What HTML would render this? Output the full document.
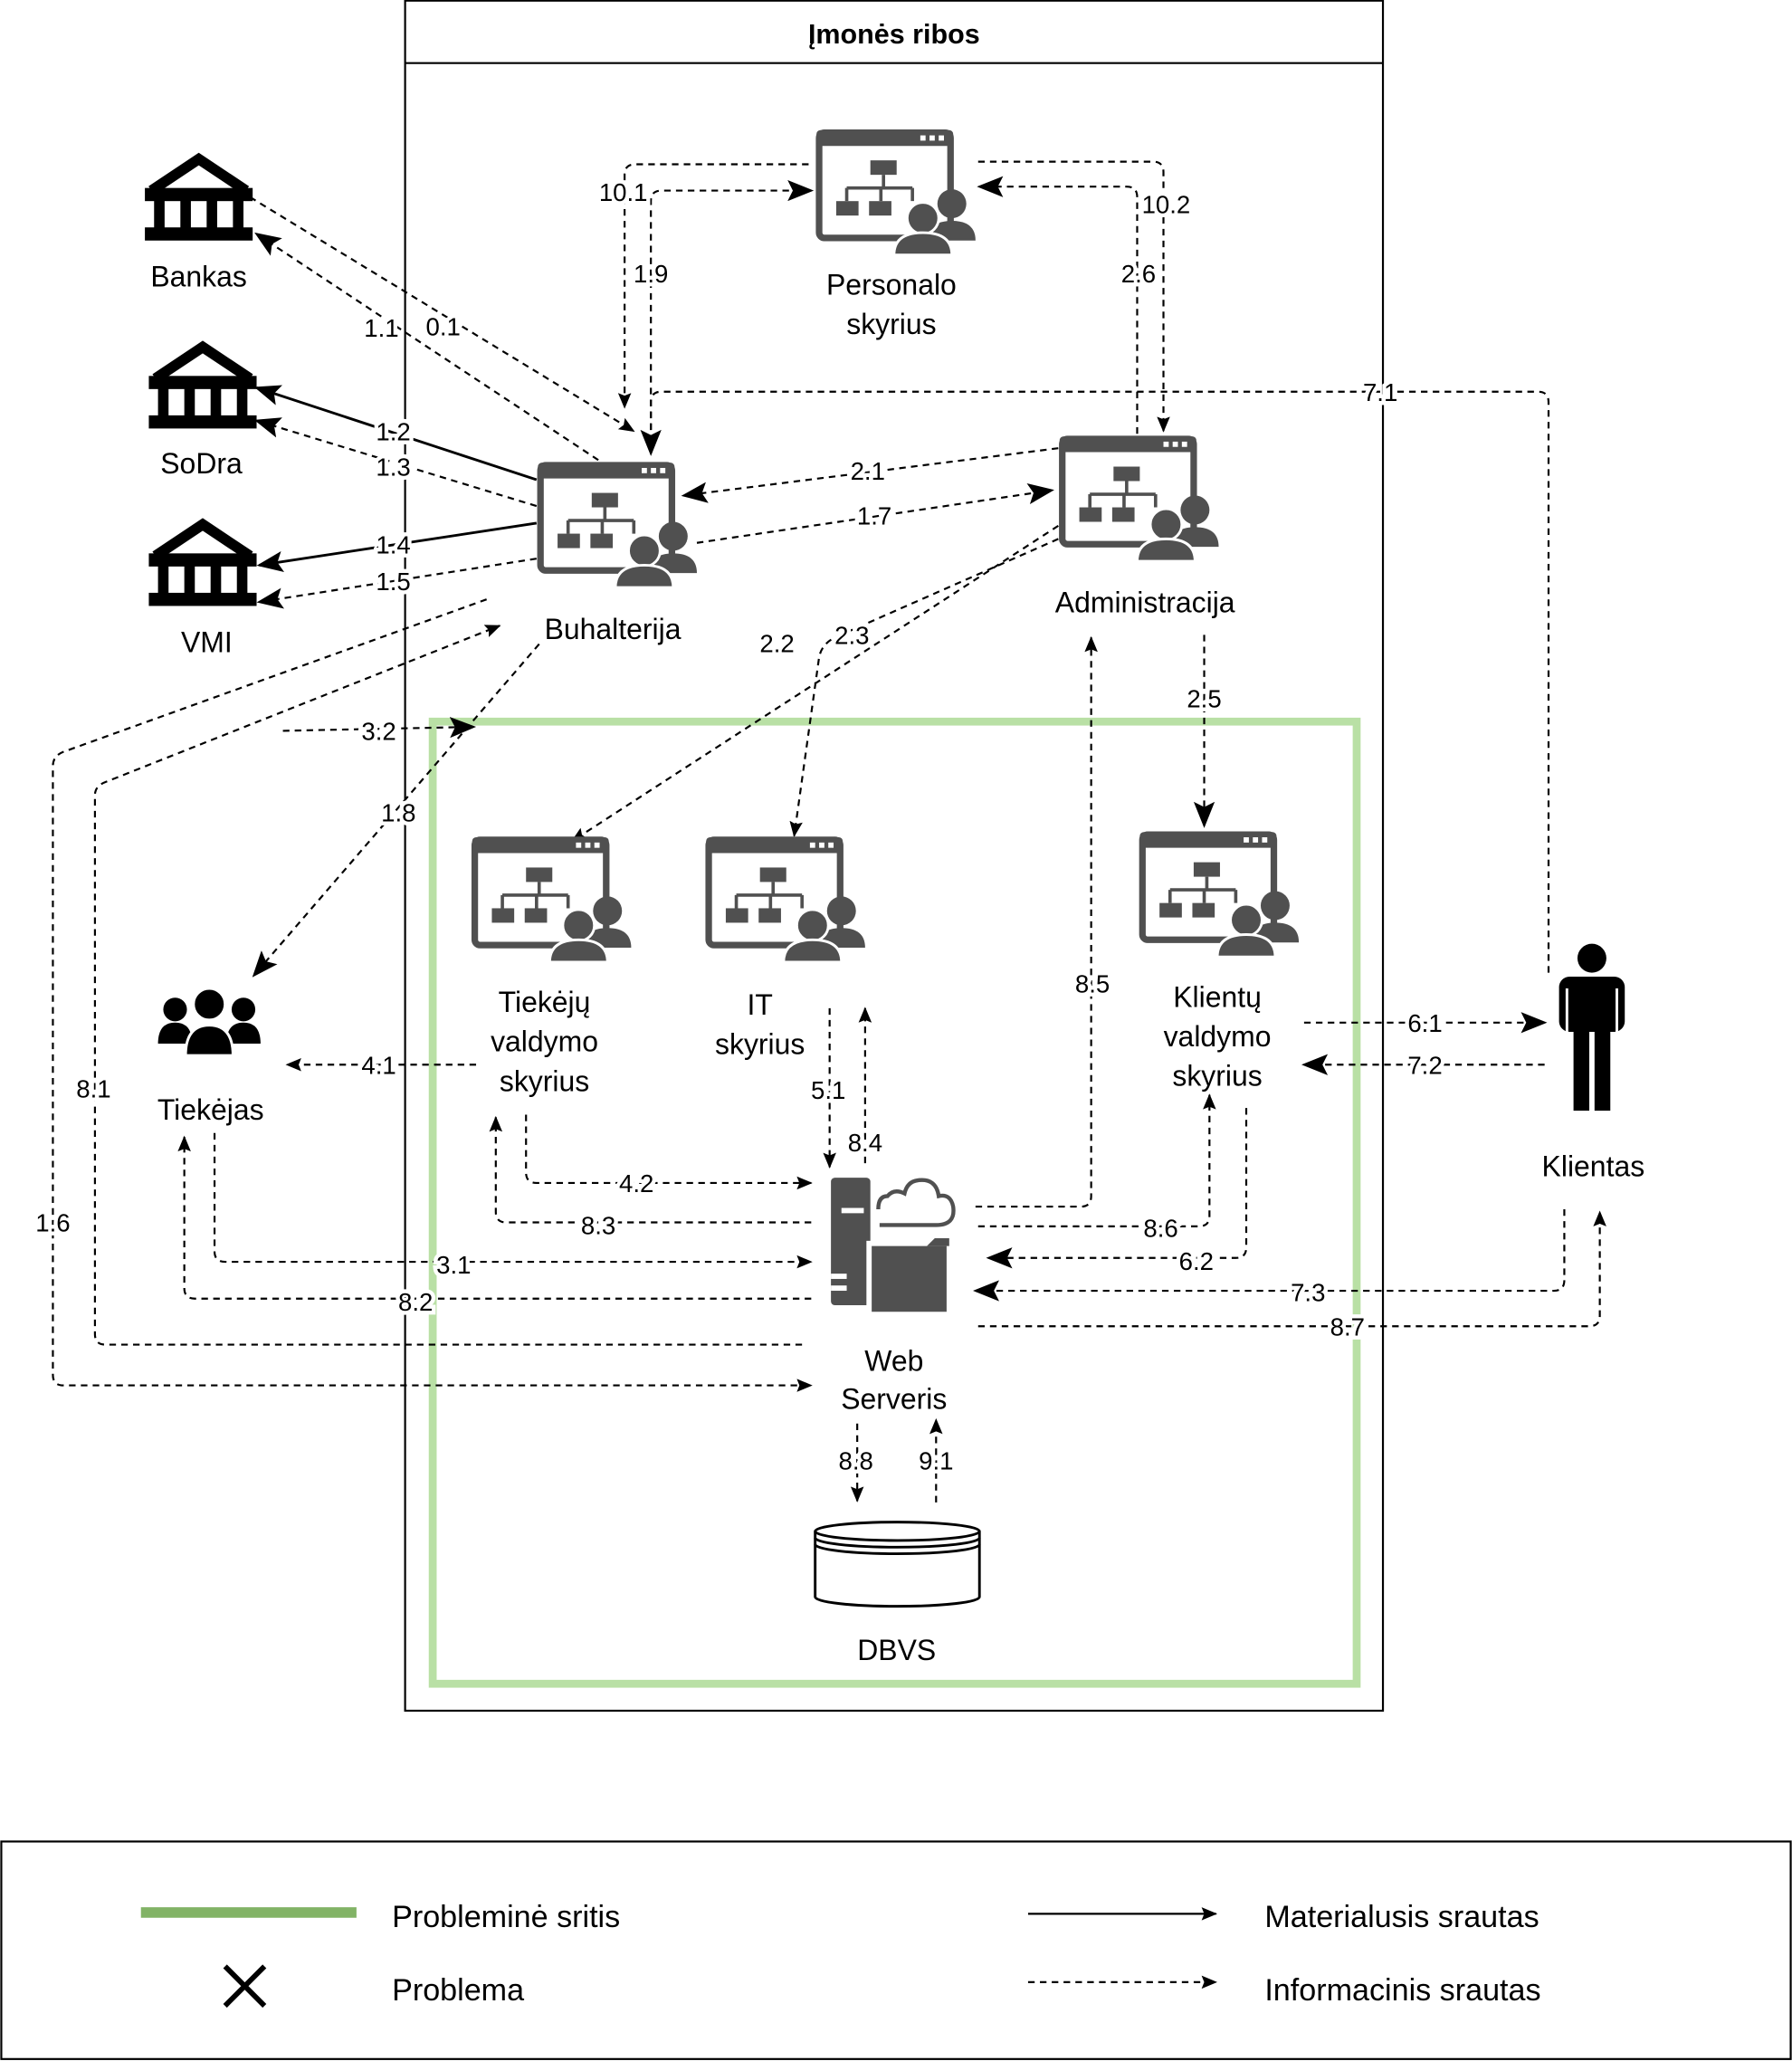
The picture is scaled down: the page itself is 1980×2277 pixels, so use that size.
<!DOCTYPE html>
<html><head><meta charset="utf-8"><style>html,body{margin:0;padding:0;background:#fff}svg{display:block}</style></head><body>
<svg width="1980" height="2277" viewBox="0 0 1363 1568" xmlns="http://www.w3.org/2000/svg" font-family="Liberation Sans, sans-serif">
<defs>
<marker id="b" markerUnits="userSpaceOnUse" markerWidth="20" markerHeight="16" refX="18" refY="8" orient="auto"><path d="M0,0 L20,8 L0,16 L4,8z" fill="#000"/></marker>
<marker id="s" markerUnits="userSpaceOnUse" markerWidth="12" markerHeight="10" refX="11" refY="5" orient="auto"><path d="M0,0 L12,5 L0,10 L2,5z" fill="#000"/></marker>
<g id="win">
<rect x="3" y="3" width="100" height="80" rx="4" fill="#fff" stroke="#505050" stroke-width="5"/>
<rect x="1" y="1" width="104" height="12" rx="3" fill="#505050"/>
<rect x="80" y="5" width="4" height="4" fill="#fff"/><rect x="87" y="5" width="4" height="4" fill="#fff"/><rect x="94" y="5" width="4" height="4" fill="#fff"/>
<rect x="42" y="24" width="20" height="11" fill="#505050"/>
<path d="M52,35 V45 M24,45 H74 M24,45 V55 M50,45 V55 M74,45 V55" stroke="#505050" stroke-width="2.5" fill="none"/>
<rect x="16" y="55" width="17" height="11" fill="#505050"/><rect x="41" y="55" width="17" height="11" fill="#505050"/>
<circle cx="104" cy="57" r="11" fill="#505050"/>
<path d="M86,85 Q86,70 104,70 Q122,70 122,85z" fill="#505050"/>
<circle cx="82" cy="68" r="12" fill="#505050" stroke="#fff" stroke-width="2"/>
<path d="M60,96 Q60,79 82,79 Q104,79 104,96z" fill="#505050" stroke="#fff" stroke-width="2"/>
</g>
<g id="bank">
<path d="M5,30 L41,6 L77,30" fill="none" stroke="#000" stroke-width="8"/>
<rect x="0" y="28" width="82" height="10" fill="#000"/>
<rect x="7" y="36" width="8" height="24" fill="#000"/><rect x="27" y="36" width="8" height="24" fill="#000"/><rect x="47" y="36" width="8" height="24" fill="#000"/><rect x="67" y="36" width="8" height="24" fill="#000"/>
<rect x="0" y="58" width="82" height="10" fill="#000"/>
</g>
</defs>
<rect x="308" y="0.5" width="744" height="1301" fill="none" stroke="#000" stroke-width="1.5"/>
<line x1="308" y1="48" x2="1052" y2="48" stroke="#000" stroke-width="1.5"/>
<text x="680" y="33" font-size="21" font-weight="bold" text-anchor="middle">Įmonės ribos</text>
<rect x="329" y="549" width="703" height="732" fill="none" stroke="#b9e0a5" stroke-width="6"/>

<g fill="none" stroke="#000" stroke-width="1.5" stroke-dasharray="5 4">
<path d="M190,150 L482,328" marker-end="url(#s)"/>
<path d="M455,350 L195,178" marker-end="url(#b)"/>
<path d="M408,385 L195,320" marker-end="url(#b)"/>
<path d="M408,425 L197,458" marker-end="url(#b)"/>
<path d="M615,125 H483 Q475,125 475,133 V310" marker-end="url(#s)"/>
<path d="M495,345 V153 Q495,145 503,145 H617" marker-end="url(#b)"/>
<path d="M744,123 H877 Q885,123 885,131 V328" marker-end="url(#s)"/>
<path d="M865,330 V150 Q865,142 857,142 H745" marker-end="url(#b)"/>
<path d="M1178,740 V306 Q1178,298 1170,298 H503 Q495,298 495,306 V345" marker-end="url(#b)"/>
<path d="M805,341 L520,377" marker-end="url(#b)"/>
<path d="M530,413 L800,373" marker-end="url(#b)"/>
<path d="M805,400 L435,640" marker-end="url(#s)"/>
<path d="M805,410 L635,485 Q625,490 623,500 L604,636" marker-end="url(#s)"/>
<path d="M916,483 V628" marker-end="url(#b)"/>
<path d="M742,918 H822 Q830,918 830,910 V485" marker-end="url(#s)"/>
<path d="M410,490 L193,742" marker-end="url(#b)"/>
<path d="M215,556 L360,553" marker-end="url(#b)"/>
<path d="M610,1023 H80 Q72,1023 72,1015 V605 Q72,598 80,595 L380,476" marker-end="url(#s)"/>
<path d="M370,456 L48,572 Q40,575 40,583 V1046 Q40,1054 48,1054 H617" marker-end="url(#s)"/>
<path d="M362,810 H218" marker-end="url(#s)"/>
<path d="M400,848 V892 Q400,900 408,900 H617" marker-end="url(#s)"/>
<path d="M617,930 H385 Q377,930 377,922 V850" marker-end="url(#s)"/>
<path d="M163,862 V952 Q163,960 171,960 H617" marker-end="url(#s)"/>
<path d="M617,988 H148 Q140,988 140,980 V865" marker-end="url(#s)"/>
<path d="M631,767 V888" marker-end="url(#s)"/>
<path d="M658,885 V767" marker-end="url(#s)"/>
<path d="M992,778 H1175" marker-end="url(#b)"/>
<path d="M1175,810 H992" marker-end="url(#b)"/>
<path d="M744,933 H912 Q920,933 920,925 V833" marker-end="url(#s)"/>
<path d="M948,843 V949 Q948,957 940,957 H752" marker-end="url(#b)"/>
<path d="M1190,920 V974 Q1190,982 1182,982 H742" marker-end="url(#b)"/>
<path d="M744,1009 H1209 Q1217,1009 1217,1001 V922" marker-end="url(#s)"/>
<path d="M652,1083 V1142" marker-end="url(#s)"/>
<path d="M712,1143 V1080" marker-end="url(#s)"/>
</g>
<g fill="none" stroke="#000" stroke-width="2">
<path d="M408,365 L195,295" marker-end="url(#b)"/>
<path d="M408,398 L197,430" marker-end="url(#b)"/>
</g>

<g font-size="19" text-anchor="middle" stroke="#fff" stroke-width="6" paint-order="stroke" fill="#000">
<text x="290" y="256">1.1</text><text x="337" y="255">0.1</text>
<text x="299" y="335">1.2</text><text x="299" y="362">1.3</text>
<text x="299" y="421">1.4</text><text x="299" y="449">1.5</text>
<text x="474" y="153">10.1</text><text x="495" y="215">1.9</text>
<text x="887" y="162">10.2</text><text x="866" y="215">2.6</text>
<text x="1050" y="305">7.1</text><text x="660" y="365">2.1</text><text x="665" y="399">1.7</text>
<text x="591" y="496">2.2</text><text x="648" y="490">2.3</text><text x="916" y="538">2.5</text>
<text x="831" y="755">8.5</text><text x="303" y="625">1.8</text><text x="288" y="563">3.2</text>
<text x="71" y="835">8.1</text><text x="40" y="937">1.6</text><text x="288" y="817">4.1</text>
<text x="484" y="907">4.2</text><text x="455" y="939">8.3</text><text x="345" y="969">3.1</text>
<text x="316" y="997">8.2</text><text x="630" y="836">5.1</text><text x="658" y="876">8.4</text>
<text x="1084" y="785">6.1</text><text x="1084" y="817">7.2</text><text x="883" y="941">8.6</text>
<text x="910" y="966">6.2</text><text x="995" y="990">7.3</text><text x="1025" y="1016">8.7</text>
<text x="651" y="1118">8.8</text><text x="712" y="1118">9.1</text>
</g>

<use href="#win" x="620" y="98"/><use href="#win" x="408" y="351"/><use href="#win" x="805" y="331"/>
<use href="#win" x="358" y="636"/><use href="#win" x="536" y="636"/><use href="#win" x="866" y="632"/>
<use href="#bank" x="110" y="115"/><use href="#bank" x="113" y="258"/><use href="#bank" x="113" y="393"/>

<g fill="#000">
<circle cx="133" cy="768" r="9"/><path d="M120,794 Q120,778 133,778 Q146,778 146,794z"/>
<circle cx="185" cy="768" r="9"/><path d="M172,794 Q172,778 185,778 Q198,778 198,794z"/>
<circle cx="159" cy="764" r="12" stroke="#fff" stroke-width="2"/><path d="M141,803 Q141,780 159,780 Q177,780 177,803z" stroke="#fff" stroke-width="2"/>
</g>
<g fill="#000">
<circle cx="1211" cy="729" r="11"/>
<rect x="1186" y="743" width="50" height="42" rx="8"/>
<rect x="1197" y="770" width="12" height="75"/><rect x="1213" y="770" width="12" height="75"/>
<rect x="1195" y="752" width="32" height="25" fill="#000"/>
</g>
<path d="M1192,752 V790 M1230,752 V790" stroke="#fff" stroke-width="2"/>
<g fill="#505050">
<rect x="632" y="896" width="30" height="97" rx="3"/>
<rect x="640" y="919" width="17" height="4" fill="#fff"/>
<path d="M669,932 H712 Q727,932 725,918 Q723,908 714,910 Q712,896 698,898 Q690,899 688,908 Q680,904 675,910 Q668,910 668,920" fill="none" stroke="#505050" stroke-width="3"/>
<rect x="659" y="944" width="68" height="56" fill="#fff"/>
<path d="M663,948 H720 V998 H663z"/><path d="M711,942 H722 V948 H705z"/>
<rect x="632" y="969" width="12" height="4" fill="#fff"/><rect x="632" y="978" width="12" height="4" fill="#fff"/>
</g>
<g fill="#fff" stroke="#000" stroke-width="2">
<path d="M620,1165 V1215 A62,7 0 0 0 745,1215 V1165"/>
<ellipse cx="682.5" cy="1165" rx="62.5" ry="7"/>
<path d="M620,1170 A62,7 0 0 0 745,1170 M620,1175 A62,7 0 0 0 745,1175" fill="none"/>
</g>

<g font-size="22" text-anchor="middle">
<text x="678" y="224">Personalo</text><text x="678" y="254">skyrius</text>
<text x="466" y="486">Buhalterija</text><text x="871" y="466">Administracija</text>
<text x="151" y="218">Bankas</text><text x="153" y="360">SoDra</text><text x="157" y="496">VMI</text>
<text x="414" y="770">Tiekėjų</text><text x="414" y="800">valdymo</text><text x="414" y="830">skyrius</text>
<text x="578" y="772">IT</text><text x="578" y="802">skyrius</text>
<text x="926" y="766">Klientų</text><text x="926" y="796">valdymo</text><text x="926" y="826">skyrius</text>
<text x="160" y="852">Tiekėjas</text><text x="1212" y="895">Klientas</text>
<text x="680" y="1043">Web</text><text x="680" y="1072">Serveris</text><text x="682" y="1263">DBVS</text>
</g>

<rect x="0.75" y="1401" width="1361.5" height="165.5" fill="none" stroke="#000" stroke-width="1.5"/>
<line x1="107" y1="1455" x2="271" y2="1455" stroke="#82b366" stroke-width="8"/>
<path d="M171,1496 L201,1526 M201,1496 L171,1526" stroke="#000" stroke-width="4"/>
<path d="M782,1456 H925" stroke="#000" stroke-width="1.5" marker-end="url(#s)"/>
<path d="M782,1508 H925" stroke="#000" stroke-width="1.5" stroke-dasharray="5 4" marker-end="url(#s)"/>
<g font-size="23.5">
<text x="298" y="1466">Probleminė sritis</text><text x="298" y="1522">Problema</text>
<text x="962" y="1466">Materialusis srautas</text><text x="962" y="1522">Informacinis srautas</text>
</g>
</svg>
</body></html>
